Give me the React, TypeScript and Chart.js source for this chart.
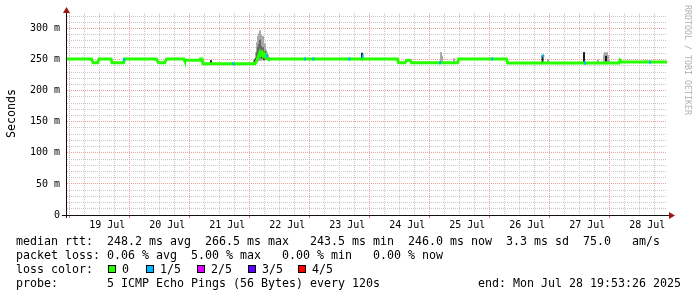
import { useEffect, useRef } from 'react';
import { Chart, registerables } from 'chart.js';

Chart.register(...registerables);

// time axis: hours since 18 Jul 2025 00:00
const X_MIN = 19.8906; // 18 Jul 19:53:26
const X_MAX = 259.8906; // 28 Jul 19:53:26
const Y_MAX = 325;

const dayLabels = ['19 Jul', '20 Jul', '21 Jul', '22 Jul', '23 Jul', '24 Jul', '25 Jul', '26 Jul', '27 Jul', '28 Jul'];
const yLabels = ['0', '50 m', '100 m', '150 m', '200 m', '250 m', '300 m'];

// median rtt (ms)
const medianHours = [19.9, 29.7, 30.3, 32.1, 32.7, 37.5, 37.9, 42.5, 42.9, 55.7, 56.5, 58.9, 59.7, 66.7, 66.9, 73.1, 73.3, 73.9, 74.3, 95.1, 95.5, 95.9, 96.3, 96.7, 97.1, 97.5, 97.9, 98.3, 98.7, 99.1, 99.5, 99.9, 100.3, 100.7, 101.1, 152.1, 152.5, 155.1, 155.9, 157.1, 157.7, 176.1, 176.5, 195.7, 196.1, 240.7, 241.1, 241.7, 259.9];
const medianMs = [251, 251, 245, 245, 251, 251, 245, 245, 251, 251, 245, 245, 251, 251, 249, 249, 251, 251, 243.5, 243.5, 246, 250, 253, 258, 262, 258, 261, 256, 259, 255, 257, 253, 251, 250, 251, 251, 245, 245, 249, 249, 245, 245, 251, 251, 244.4, 244.4, 249, 246, 246];

// samples with 1/5 loss
const lossHours = [42.7, 86.4, 99.8, 115.1, 118.4, 132.8, 138.2, 169.1, 190.0, 210.4, 227.1, 253.1];
const lossMs = [250, 243.5, 256, 251, 251, 251, 256, 245, 251, 256, 244.4, 246];

// smoke: outer light band
const smokeHours = [94.7, 95.1, 95.5, 95.9, 96.3, 96.7, 97.1, 97.5, 97.9, 98.3, 98.7, 99.1, 99.5, 99.9, 100.3, 100.7, 169.5, 169.9, 174.7, 212.3, 232.3, 234.7, 235.1, 235.5, 235.9, 236.3, 236.7, 251.5];
const smokeLow = [244, 244, 245, 246, 247, 248, 249, 248, 249, 250, 248, 249, 250, 249, 250, 250, 246, 246, 245, 245, 245, 246, 246, 246, 246, 246, 245, 245];
const smokeHigh = [249, 252, 262, 278, 288, 292, 297, 290, 282, 288, 272, 276, 266, 262, 258, 254, 262, 256, 252, 251, 250, 258, 262, 256, 262, 257, 250, 249];

// smoke: inner darker band
const smokeInnerHours = [95.1, 95.5, 95.9, 96.3, 96.7, 97.1, 97.5, 97.9, 98.3, 98.7, 99.1, 99.5, 99.9, 100.3];
const smokeInnerLow = [245, 246, 248, 250, 252, 254, 252, 253, 252, 250, 251, 251, 250, 250];
const smokeInnerHigh = [248, 252, 262, 270, 275, 282, 272, 268, 270, 262, 264, 258, 256, 254];

// smoke: near-black columns
const smokeDarkHours = [77.5, 95.1, 95.5, 97.9, 98.7, 137.9, 176.3, 210.1, 226.7, 235.5];
const smokeDarkLow = [243, 243, 244, 252, 250, 249, 245, 245, 244, 247];
const smokeDarkHigh = [249, 250, 252, 262, 258, 261, 251, 257, 262, 256];

const lossLegend = [
  { label: '0', color: '#26ff00' },
  { label: '1/5', color: '#00b8ff' },
  { label: '2/5', color: '#dd00ff' },
  { label: '3/5', color: '#5e00ff' },
  { label: '4/5', color: '#ff0000' },
];
const lossLegendX = [108, 146, 197, 248, 298];

const MINOR = 'rgba(200,200,200,1)';
const MAJOR = 'rgba(235,160,160,1)';
const MONO = '"DejaVu Sans Mono", monospace';

const rrdAxes = {
  id: 'rrdAxes',
  afterDraw(chart: any) {
    const { ctx, chartArea } = chart;
    const { left, right, top, bottom } = chartArea;
    ctx.save();
    ctx.strokeStyle = '#111';
    ctx.lineWidth = 1;
    ctx.beginPath();
    ctx.moveTo(left - 5, bottom + 0.5);
    ctx.lineTo(right + 3, bottom + 0.5);
    ctx.moveTo(left - 0.5, bottom + 3);
    ctx.lineTo(left - 0.5, top - 2);
    ctx.stroke();
    ctx.fillStyle = '#a01414';
    ctx.beginPath();
    ctx.moveTo(right + 2, bottom - 3);
    ctx.lineTo(right + 8, bottom + 0.5);
    ctx.lineTo(right + 2, bottom + 4);
    ctx.closePath();
    ctx.fill();
    ctx.beginPath();
    ctx.moveTo(left - 4, top);
    ctx.lineTo(left - 0.5, top - 6);
    ctx.lineTo(left + 3, top);
    ctx.closePath();
    ctx.fill();
    ctx.restore();
  },
};

const floating = (hours: number[], lo: number[], hi: number[]) =>
  hours.map((h, i) => ({ x: h, y: [lo[i], hi[i]] }));

export default function App() {
  const ref = useRef<HTMLCanvasElement | null>(null);

  useEffect(() => {
    if (!ref.current) return;
    const barBase = {
      type: 'bar' as const,
      barThickness: 2,
      grouped: false,
      borderWidth: 0,
      borderSkipped: false,
      inflateAmount: 0,
    };
    const chart = new Chart(ref.current, {
      type: 'line',
      data: {
        datasets: [
          {
            ...barBase,
            data: lossHours.map((h, i) => ({ x: h, y: [lossMs[i] - 2.5, lossMs[i] + 2.5] })),
            backgroundColor: '#00b8ff',
            order: 0,
          } as any,
          {
            type: 'line',
            data: medianHours.map((h, i) => ({ x: h, y: medianMs[i] })),
            borderColor: '#26ff00',
            borderWidth: 3,
            pointRadius: 0,
            tension: 0,
            fill: false,
            order: 1,
          },
          {
            ...barBase,
            data: floating(smokeDarkHours, smokeDarkLow, smokeDarkHigh),
            backgroundColor: '#1e1e1e',
            order: 2,
          } as any,
          {
            ...barBase,
            data: floating(smokeInnerHours, smokeInnerLow, smokeInnerHigh),
            backgroundColor: '#666666',
            order: 3,
          } as any,
          {
            ...barBase,
            data: floating(smokeHours, smokeLow, smokeHigh),
            backgroundColor: '#a8a8a8',
            order: 4,
          } as any,
        ],
      },
      options: {
        animation: false,
        responsive: false,
        maintainAspectRatio: false,
        devicePixelRatio: 1,
        events: [],
        layout: { padding: { left: 0, right: 30, top: 13, bottom: 0 } },
        plugins: {
          legend: { display: false },
          tooltip: { enabled: false },
          title: { display: false },
        },
        scales: {
          x: {
            type: 'linear',
            min: X_MIN,
            max: X_MAX,
            offset: false,
            afterFit: (s: any) => {
              s.height = 82;
            },
            afterBuildTicks: (s: any) => {
              const t: { value: number }[] = [];
              for (let h = 24; h <= X_MAX; h += 6) t.push({ value: h });
              s.ticks = t;
            },
            ticks: {
              autoSkip: false,
              maxRotation: 0,
              minRotation: 0,
              padding: 1,
              color: '#000',
              font: { family: MONO, size: 10 },
              callback: (v: any) => {
                const n = Number(v);
                if (n % 24 !== 12) return '';
                return dayLabels[(n - 36) / 24] ?? '';
              },
            },
            grid: {
              color: (c: any) => (c.tick && c.tick.value % 24 === 0 ? MAJOR : MINOR),
              tickColor: (c: any) => (c.tick && c.tick.value % 24 === 0 ? '#e07070' : 'rgba(0,0,0,0)'),
              tickLength: 3,
              drawTicks: true,
              lineWidth: 1,
            },
            border: { display: false, dash: [1, 1] },
          },
          y: {
            type: 'linear',
            min: 0,
            max: Y_MAX,
            afterFit: (s: any) => {
              s.width = 67;
            },
            afterBuildTicks: (s: any) => {
              const t: { value: number }[] = [];
              for (let v = 0; v <= 320; v += 10) t.push({ value: v });
              s.ticks = t;
            },
            ticks: {
              autoSkip: false,
              padding: 7,
              color: '#000',
              font: { family: MONO, size: 10 },
              callback: (v: any) => {
                const n = Number(v);
                return n % 50 === 0 ? yLabels[n / 50] ?? '' : '';
              },
            },
            grid: {
              color: (c: any) => (c.tick && c.tick.value % 50 === 0 ? MAJOR : MINOR),
              drawTicks: false,
              lineWidth: 1,
            },
            border: { display: false, dash: [1, 1] },
          },
        },
      } as any,
      plugins: [rrdAxes],
    });
    return () => chart.destroy();
  }, []);

  const textBase: any = {
    position: 'absolute',
    fontFamily: MONO,
    fontSize: '11.63px',
    lineHeight: '14px',
    whiteSpace: 'pre',
    color: '#000',
    margin: 0,
  };

  return (
    <div style={{ position: 'absolute', left: 0, top: 0, width: 697, height: 297, background: '#fff', overflow: 'hidden' }}>
      <canvas ref={ref} width={697} height={297} style={{ display: 'block', width: 697, height: 297 }} />
      <div
        style={{
          ...textBase,
          left: 4,
          top: 138,
          transformOrigin: '0 0',
          transform: 'rotate(-90deg)',
        }}
      >
        Seconds
      </div>
      <div
        style={{
          ...textBase,
          fontSize: '8.3px',
          lineHeight: '10px',
          color: '#b0b0b0',
          left: 693,
          top: 5,
          transformOrigin: '0 0',
          transform: 'rotate(90deg)',
        }}
      >
        RRDTOOL / TOBI OETIKER
      </div>
      <div style={{ ...textBase, left: 16, top: 233.5 }}>
        {'median rtt:  248.2 ms avg  266.5 ms max   243.5 ms min  246.0 ms now  3.3 ms sd  75.0   am/s'}
      </div>
      <div style={{ ...textBase, left: 16, top: 247.8 }}>
        {'packet loss: 0.06 % avg  5.00 % max   0.00 % min   0.00 % now'}
      </div>
      <div style={{ ...textBase, left: 16, top: 261.7 }}>{'loss color:'}</div>
      {lossLegend.map((l, i) => (
        <div key={l.label}>
          <div
            style={{
              position: 'absolute',
              left: lossLegendX[i],
              top: 265,
              width: 6,
              height: 6,
              background: l.color,
              border: '1px solid #000',
            }}
          />
          <div style={{ ...textBase, left: lossLegendX[i] + 14, top: 261.7 }}>{l.label}</div>
        </div>
      ))}
      <div style={{ ...textBase, left: 16, top: 275.8 }}>
        {'probe:       5 ICMP Echo Pings (56 Bytes) every 120s              end: Mon Jul 28 19:53:26 2025'}
      </div>
    </div>
  );
}
